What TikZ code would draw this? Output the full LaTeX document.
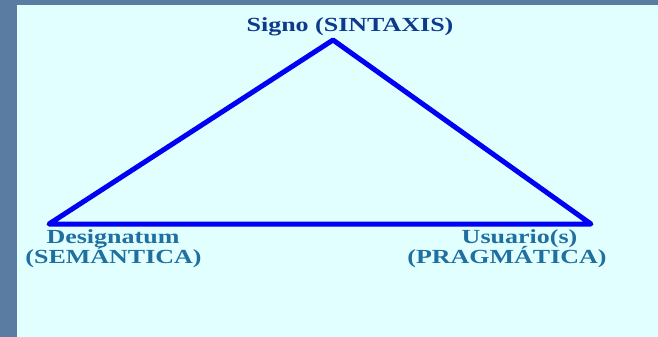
\documentclass[tikz,border=0pt]{standalone}
\usepackage{fontspec}
\setmainfont{Liberation Serif}
\definecolor{frame}{HTML}{5A7BA2}
\definecolor{panel}{HTML}{E2FFFF}
\definecolor{topink}{HTML}{0E3A8E}
\definecolor{lowink}{HTML}{1F6FA0}
\definecolor{edge}{HTML}{0000F5}
\tikzset{
  lbl/.style={inner sep=0pt, anchor=base, font=\bfseries\fontsize{20}{22}\selectfont},
  side/.style={draw=edge, line width=5pt, line join=round, line cap=round}
}
\newcommand{\wide}[1]{\scalebox{1.3}[1]{#1}}
\begin{document}
\begin{tikzpicture}[x=1pt,y=-1pt]
\useasboundingbox (0,0) rectangle (658,337);
\fill[frame] (0,0) rectangle (658,337);
\fill[panel] (17,5) rectangle (658,337);
\coordinate (apex) at (333,40);
\coordinate (left) at (49,224);
\coordinate (right) at (591,224);
\draw[side] (apex) -- (left) -- (right) -- cycle;
\node[lbl, text=topink] (signo) at (350,32) {\wide{Signo (SINTAXIS)}};
\node[lbl, text=lowink] (desig) at (113,243) {\wide{Designatum}};
\node[lbl, text=lowink] (sem) at (113.5,263) {\wide{(SEMÁNTICA)}};
\node[lbl, text=lowink] (usu) at (519.5,243) {\wide{Usuario(s)}};
\node[lbl, text=lowink] (prag) at (507,263) {\wide{(PRAGMÁTICA)}};
\end{tikzpicture}
\end{document}
